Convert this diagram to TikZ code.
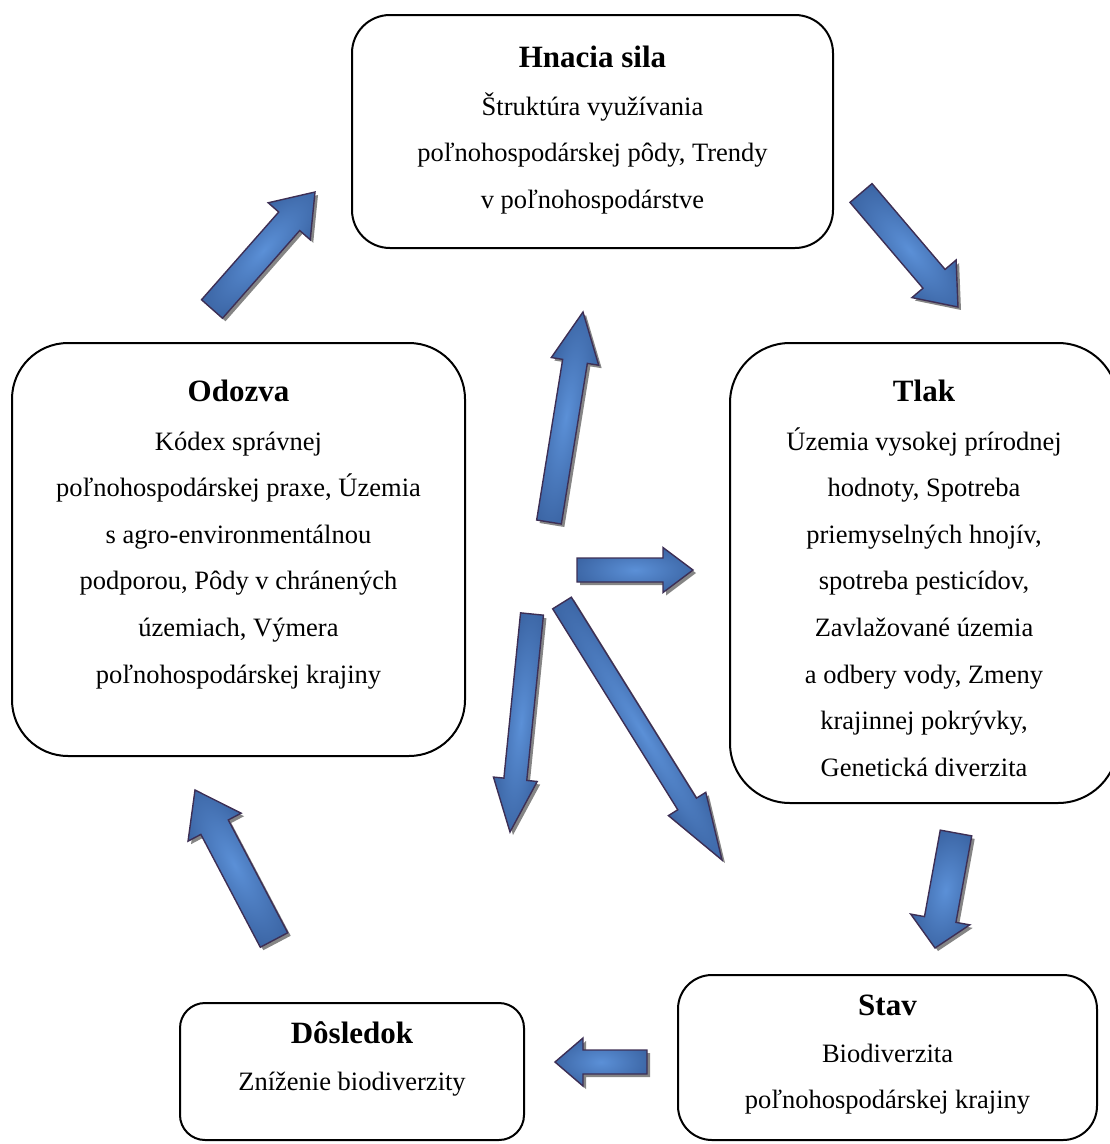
\documentclass[tikz,border=0pt]{standalone}
\usepackage{fontspec}
\setmainfont{Liberation Serif}
\usetikzlibrary{calc}

\definecolor{arrdark}{HTML}{2F5490}
\definecolor{arrlight}{HTML}{5B90D7}
\definecolor{arredge}{HTML}{3D2F55}
\definecolor{arrshadow}{HTML}{858585}

% lighter centre, darker ends and edges for the block arrows
\pgfdeclareradialshading{arrowfill}{\pgfpoint{0bp}{0bp}}{%
  color(0bp)=(arrlight); color(38bp)=(arrdark); color(50bp)=(arrdark)}

\newcommand\bodyfont{\fontsize{26.5}{46.6}\selectfont}
\newcommand\headfont{\fontsize{31}{46.6}\selectfont\bfseries}

\tikzset{
  box/.style={draw=black, line width=2pt, fill=white, inner sep=0pt},
  boxtext/.style={anchor=base, inner sep=0pt, font=\bodyfont},
  arrowbody/.style={shading=arrowfill, draw=arredge, line width=1.4pt, line join=miter},
  arrowshadow/.style={fill=arrshadow},
}

% block arrow from a tail coordinate to a tip coordinate
% #1 tail, #2 tip, #3 shaft width, #4 head width, #5 head length
\newcommand\blockarrow[5]{%
  \pgfpointanchor{#1}{center}\pgfgetlastxy{\arrax}{\array}%
  \pgfpointanchor{#2}{center}\pgfgetlastxy{\arrbx}{\arrby}%
  \pgfmathsetmacro\arrang{atan2(\arrby-\array,\arrbx-\arrax)}%
  \pgfmathsetmacro\arrlen{veclen(\arrbx-\arrax,\arrby-\array)}%
  \pgfmathsetmacro\arrneck{\arrlen-#5}%
  \pgfmathsetmacro\arrw{#3/2}%
  \pgfmathsetmacro\arrh{#4/2}%
  \def\arrshape{(0pt,-\arrw pt) -- (\arrneck pt,-\arrw pt) -- (\arrneck pt,-\arrh pt)
    -- (\arrlen pt,0pt) -- (\arrneck pt,\arrh pt) -- (\arrneck pt,\arrw pt)
    -- (0pt,\arrw pt) -- cycle}%
  \begin{scope}[transform canvas={shift={(\arrax+3pt,\array-3pt)}, rotate=\arrang}]
    \fill[arrowshadow] \arrshape;
  \end{scope}
  \begin{scope}[transform canvas={shift={(\arrax,\array)}, rotate=\arrang}]
    \shadedraw[arrowbody] \arrshape;
  \end{scope}%
}

\begin{document}
\begin{tikzpicture}[x=1pt,y=-1pt]
\useasboundingbox (0,0) rectangle (1110,1144);

\begin{scope}
  \clip (0,0) rectangle (1110,1144);
  % boxes
  \node[box, rounded corners=38pt, minimum width=481pt, minimum height=233pt] (hnacia) at (592.5,131.5) {};
  \node[box, rounded corners=56pt, minimum width=453pt, minimum height=413pt] (odozva) at (238.5,549.5) {};
  \node[box, rounded corners=60pt, minimum width=388pt, minimum height=460pt] (tlak) at (924,573) {};
  \node[box, rounded corners=34pt, minimum width=419pt, minimum height=165pt] (stav) at (887.5,1057.5) {};
  \node[box, rounded corners=25pt, minimum width=344pt, minimum height=137pt] (dosledok) at (352,1071.5) {};
\end{scope}

% box texts
\node[boxtext] (hnacia-text) at (592.5,67) {\begin{tabular}[t]{@{}c@{}}
  \headfont Hnacia sila\\[1.5pt]
  Štruktúra využívania\\
  poľnohospodárskej pôdy, Trendy\\
  v poľnohospodárstve\end{tabular}};
\node[boxtext] (odozva-text) at (238.5,401) {\begin{tabular}[t]{@{}c@{}}
  \headfont Odozva\\[2.4pt]
  Kódex správnej\\
  poľnohospodárskej praxe, Územia\\
  s agro-environmentálnou\\
  podporou, Pôdy v chránených\\
  územiach, Výmera\\
  poľnohospodárskej krajiny\end{tabular}};
\node[boxtext] (tlak-text) at (924,401) {\begin{tabular}[t]{@{}c@{}}
  \headfont Tlak\\[2.4pt]
  Územia vysokej prírodnej\\
  hodnoty, Spotreba\\
  priemyselných hnojív,\\
  spotreba pesticídov,\\
  Zavlažované územia\\
  a odbery vody, Zmeny\\
  krajinnej pokrývky,\\
  Genetická diverzita\end{tabular}};
\node[boxtext] (stav-text) at (887.5,1015) {\begin{tabular}[t]{@{}c@{}}
  \headfont Stav\\[0.5pt]
  Biodiverzita\\
  poľnohospodárskej krajiny\end{tabular}};
\node[boxtext] (dosledok-text) at (352,1043) {\begin{tabular}[t]{@{}c@{}}
  \headfont Dôsledok\\[0.5pt]
  Zníženie biodiverzity\end{tabular}};

% arrow ends
\coordinate (odozva-out)   at (212,309);  \coordinate (hnacia-in)  at (315,192);
\coordinate (hnacia-out)   at (861,193);  \coordinate (tlak-in)    at (958,307);
\coordinate (hub-up)       at (549,522);  \coordinate (hub-up-tip) at (583,312);
\coordinate (hub-right)    at (577,570);  \coordinate (hub-right-tip) at (693,570);
\coordinate (hub-down)     at (532,614);  \coordinate (hub-down-tip)  at (510,832);
\coordinate (hub-diag)     at (562,603);  \coordinate (hub-diag-tip)  at (722,860);
\coordinate (tlak-out)     at (956,833);  \coordinate (stav-in)    at (935,948);
\coordinate (stav-out)     at (647,1062); \coordinate (dosledok-in) at (555,1062);
\coordinate (dosledok-out) at (274,940);  \coordinate (odozva-in)  at (195,790);

% block arrows
\blockarrow{odozva-out}{hnacia-in}{28}{56}{39}
\blockarrow{hnacia-out}{tlak-in}{29}{58}{37}
\blockarrow{hub-up}{hub-up-tip}{25}{48}{50}
\blockarrow{hub-right}{hub-right-tip}{24}{45}{30}
\blockarrow{hub-down}{hub-down-tip}{23}{44}{53}
\blockarrow{hub-diag}{hub-diag-tip}{22}{44}{66}
\blockarrow{tlak-out}{stav-in}{32}{60}{29}
\blockarrow{stav-out}{dosledok-in}{24}{48}{28}
\blockarrow{dosledok-out}{odozva-in}{31}{60}{42}

\end{tikzpicture}
\end{document}
